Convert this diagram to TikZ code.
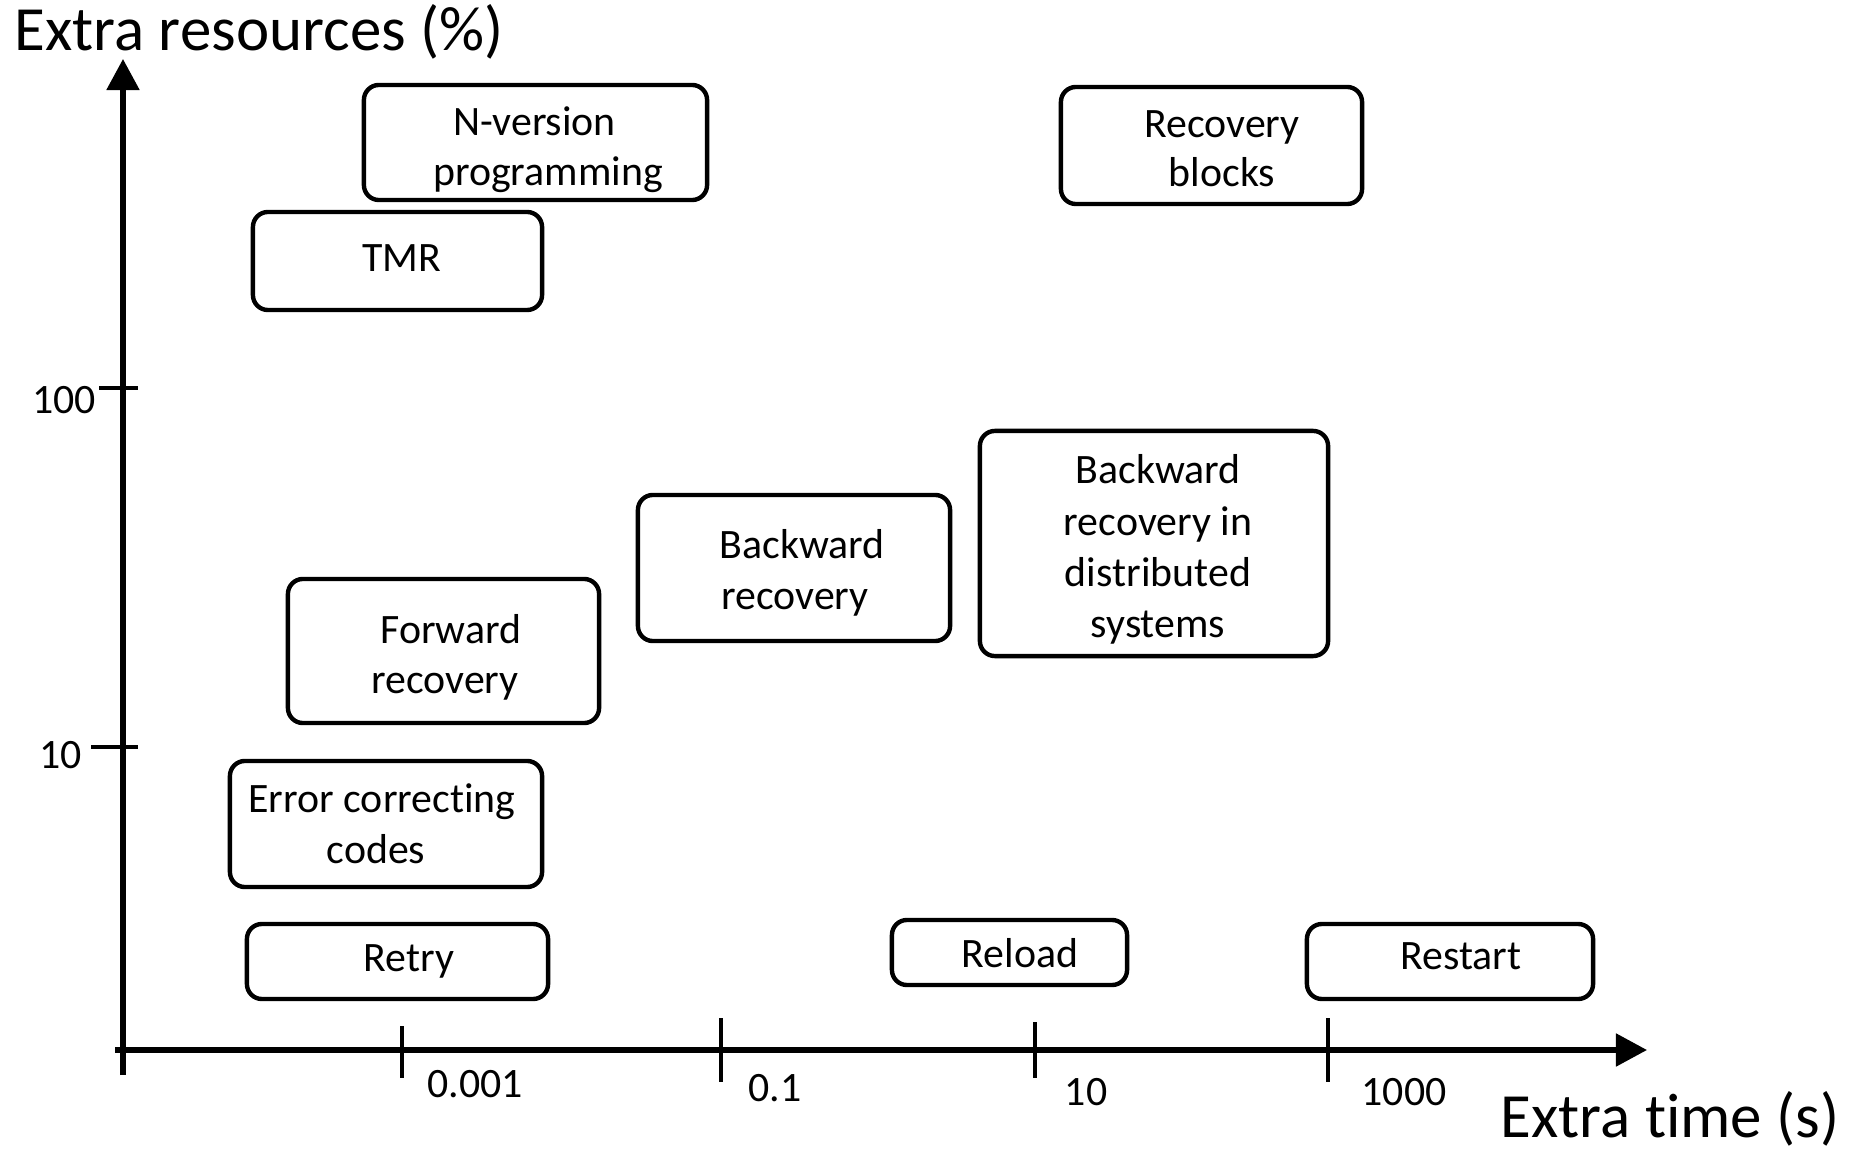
\documentclass[tikz,border=0pt]{standalone}
\usepackage{fontspec}
\setmainfont{Carlito}[Ligatures=NoCommon]
\usetikzlibrary{arrows.meta}
\begin{document}
\begin{tikzpicture}[x=0.01cm,y=-0.01cm,
  box/.style={draw, rounded corners=0.15cm, line width=1.25pt, inner sep=0pt},
  lbl/.style={inner sep=0pt, anchor=base, font=\fontsize{11.9}{14.5}\selectfont},
  ttl/.style={inner sep=0pt, anchor=base, font=\fontsize{17.9}{21}\selectfont},
  axis/.style={line width=1.45pt, -{Triangle[length=0.31cm,width=0.32cm]}},
  xtk/.style={line width=0.9pt},
  ytk/.style={line width=1.4pt}]
\useasboundingbox (0,0) rectangle (1854,1149);

% axes
\coordinate (ybot) at (123,1075);
\coordinate (ytop) at (123,59);
\coordinate (xleft) at (115,1050);
\coordinate (xright) at (1647,1050);
\draw[axis] (ybot) -- (ytop);
\draw[axis] (xleft) -- (xright);

% axis titles
\node[ttl] (ytitle) at (259,51) {Extra resources (\%)};
\node[ttl] (xtitle) at (1670,1137) {Extra time (s)};

% ticks on the time axis
\draw[xtk] (402,1026) -- (402,1078);
\draw[xtk] (721,1018) -- (721,1082);
\draw[xtk] (1035,1022) -- (1035,1078);
\draw[xtk] (1328,1018) -- (1328,1082);
\node[lbl] (t1) at (475,1097) {0.001};
\node[lbl] (t2) at (775,1101) {0.1};
\node[lbl] (t3) at (1086,1105) {10};
\node[lbl] (t4) at (1404,1105) {1000};

% ticks on the resource axis
\draw[ytk] (99,388) -- (138,388);
\draw[ytk] (91,747) -- (138,747);
\node[lbl] (r1) at (64,414) {100};
\node[lbl] (r2) at (60.5,768) {10};

% technique boxes
\node[box, minimum width=3.43cm, minimum height=1.15cm] (nver) at (535.5,142.5) {};
\node[lbl] (nver-a) at (534.5,136) {N-version};
\node[lbl] (nver-b) at (548,186) {programming};

\node[box, minimum width=2.89cm, minimum height=0.98cm] (tmr) at (397.5,261) {};
\node[lbl] (tmr-a) at (402,272) {TMR};

\node[box, minimum width=3.01cm, minimum height=1.17cm] (rblk) at (1211.5,145.5) {};
\node[lbl] (rblk-a) at (1222,138) {Recovery};
\node[lbl] (rblk-b) at (1222,187) {blocks};

\node[box, minimum width=3.11cm, minimum height=1.44cm] (fwd) at (443.5,651) {};
\node[lbl] (fwd-a) at (451,643) {Forward};
\node[lbl] (fwd-b) at (445,693) {recovery};

\node[box, minimum width=3.12cm, minimum height=1.26cm] (ecc) at (386,824) {};
\node[lbl] (ecc-a) at (382,812) {Error correcting};
\node[lbl] (ecc-b) at (376,863) {codes};

\node[box, minimum width=3.01cm, minimum height=0.75cm] (retry) at (397.5,961.5) {};
\node[lbl] (retry-a) at (409,971) {Retry};

\node[box, minimum width=3.12cm, minimum height=1.46cm] (bwd) at (794,568) {};
\node[lbl] (bwd-a) at (802,559) {Backward};
\node[lbl] (bwd-b) at (795,610) {recovery};

\node[box, minimum width=3.48cm, minimum height=2.25cm] (bwdd) at (1154,543.5) {};
\node[lbl] (bwdd-a) at (1158,484) {Backward};
\node[lbl] (bwdd-b) at (1158,536) {recovery in};
\node[lbl] (bwdd-c) at (1158,587) {distributed};
\node[lbl] (bwdd-d) at (1158,638) {systems};

\node[box, minimum width=2.35cm, minimum height=0.65cm] (reload) at (1009.5,952.5) {};
\node[lbl] (reload-a) at (1020,967) {Reload};

\node[box, minimum width=2.86cm, minimum height=0.75cm] (restart) at (1450,961.5) {};
\node[lbl] (restart-a) at (1461,969) {Restart};
\end{tikzpicture}
\end{document}
